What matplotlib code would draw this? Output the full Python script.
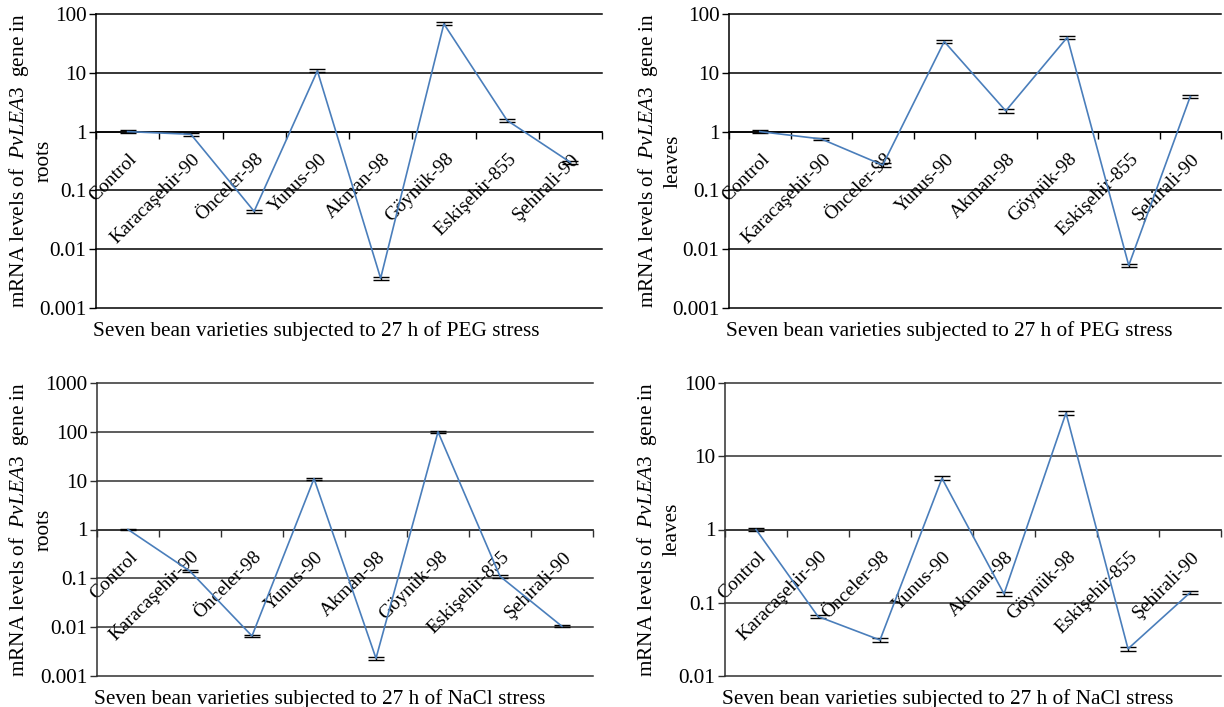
import matplotlib
matplotlib.use("Agg")
import matplotlib.pyplot as plt
import numpy as np

plt.rcParams['font.family'] = ['Liberation Serif', 'DejaVu Serif']
plt.rcParams['mathtext.fontset'] = 'custom'
plt.rcParams['mathtext.rm'] = 'Liberation Serif'
plt.rcParams['mathtext.it'] = 'Liberation Serif:italic'

varieties = ["Control", "Karacaşehir-90", "Önceler-98", "Yunus-90", "Akman-98",
             "Göynük-98", "Eskişehir-855", "Şehirali-90"]

roots_peg = [1.0, 0.90, 0.044, 10.8, 0.0032, 68.0, 1.55, 0.30]
roots_peg_err = [0.05, 0.05, 0.003, 0.6, 0.0002, 4.0, 0.08, 0.02]

leaves_peg = [1.0, 0.75, 0.27, 34.0, 2.25, 40.0, 0.0053, 3.95]
leaves_peg_err = [0.05, 0.04, 0.02, 2.0, 0.15, 2.5, 0.0004, 0.2]

roots_nacl = [1.0, 0.14, 0.0066, 11.0, 0.0023, 100.0, 0.11, 0.0104]
roots_nacl_err = [0.04, 0.008, 0.0004, 0.6, 0.00013, 5.0, 0.006, 0.0005]

leaves_nacl = [1.0, 0.065, 0.031, 5.0, 0.132, 39.0, 0.0235, 0.137]
leaves_nacl_err = [0.05, 0.004, 0.002, 0.3, 0.008, 2.5, 0.0013, 0.007]

ticks_6 = [0.001, 0.01, 0.1, 1, 10, 100]
labels_6 = ["0.001", "0.01", "0.1", "1", "10", "100"]
ticks_7 = [0.001, 0.01, 0.1, 1, 10, 100, 1000]
labels_7 = ["0.001", "0.01", "0.1", "1", "10", "100", "1000"]
ticks_5 = [0.01, 0.1, 1, 10, 100]
labels_5 = ["0.01", "0.1", "1", "10", "100"]

xlabel_peg = "Seven bean varieties subjected to 27 h of PEG stress"
xlabel_nacl = "Seven bean varieties subjected to 27 h of NaCl stress"
ylabel_line1 = "mRNA levels of  $\\it{PvLEA3}$  gene in"
ylabel_roots = "roots"
ylabel_leaves = "leaves"

W, H = 1224, 707
fig = plt.figure(figsize=(W / 100, H / 100), dpi=100)

LINE = '#4A7EBB'
FS = 15.3
FS_CAT = 14.0

panels = [
    ((96, 602, 14, 308), roots_peg, roots_peg_err, ticks_6, labels_6, xlabel_peg, ylabel_roots, (19, 44), 'black'),
    ((729, 1221, 14, 308), leaves_peg, leaves_peg_err, ticks_6, labels_6, xlabel_peg, ylabel_leaves, (648, 673), 'black'),
    ((97, 593, 383, 676), roots_nacl, roots_nacl_err, ticks_7, labels_7, xlabel_nacl, ylabel_roots, (19, 44), '#303030'),
    ((725, 1221, 383, 676), leaves_nacl, leaves_nacl_err, ticks_5, labels_5, xlabel_nacl, ylabel_leaves, (647, 672), '#303030'),
]

n = len(varieties)
xc = np.arange(n) + 0.5

for (l, r, t, b), vals, errs, yt, yl, xlab, ylab2, (yx1, yx2), gc in panels:
    ax = fig.add_axes([l / W, 1 - b / H, (r - l) / W, (b - t) / H])
    ax.set_yscale('log')
    ax.set_ylim(yt[0], yt[-1])
    ax.set_xlim(0, n)
    ax.set_yticks(yt)
    ax.set_yticklabels(yl, fontsize=FS)
    ax.yaxis.set_minor_locator(matplotlib.ticker.NullLocator())
    ax.tick_params(axis='y', direction='out', length=5, width=1, color=gc, pad=2)
    for v in yt:
        ax.axhline(v, color=gc, lw=1.1, zorder=1, clip_on=False)
    ax.spines['bottom'].set_position(('data', 1))
    ax.spines['bottom'].set_color(gc)
    ax.spines['bottom'].set_linewidth(1.1)
    ax.spines['left'].set_color(gc)
    ax.spines['left'].set_linewidth(1.1)
    ax.spines['top'].set_visible(False)
    ax.spines['right'].set_visible(False)
    ax.set_xticks(np.arange(n + 1))
    ax.set_xticklabels([])
    ax.tick_params(axis='x', which='major', direction='out', length=5, width=1, color=gc)
    ax.set_xticks(xc, minor=True)
    ax.set_xticklabels(varieties, minor=True, rotation=45, ha='right',
                       rotation_mode='anchor', fontsize=FS_CAT)
    ax.tick_params(axis='x', which='minor', length=0, pad=13.5)
    for lab in ax.get_xticklabels(minor=True):
        lab.set_transform(lab.get_transform() + matplotlib.transforms.ScaledTranslation(1 / 100, 0, fig.dpi_scale_trans))

    ax.errorbar(xc, vals, yerr=errs, color=LINE, lw=1.2, ecolor='black',
                elinewidth=1, capsize=6, capthick=1, zorder=3)

    fig.text((l - 3) / W, 1 - (b + 23) / H, xlab, ha='left', va='center', fontsize=FS)
    ymid = 1 - ((t + b) / 2) / H
    fig.text(yx1 / W, ymid, ylabel_line1, rotation=90, ha='center', va='center', fontsize=FS)
    fig.text(yx2 / W, ymid, ylab2, rotation=90, ha='center', va='center', fontsize=FS)

fig.savefig("out.png", dpi=100)
